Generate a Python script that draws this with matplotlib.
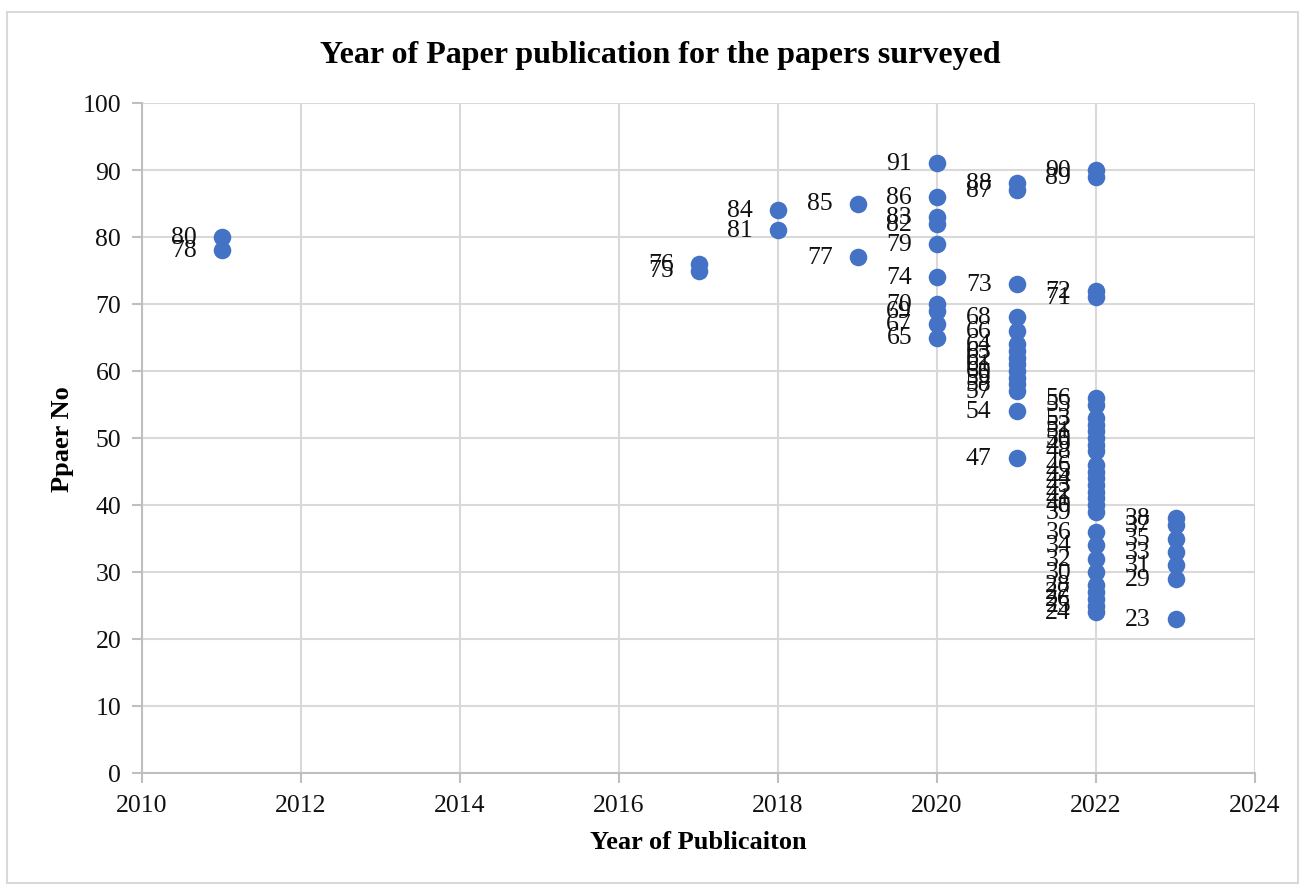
import matplotlib.pyplot as plt
from matplotlib.patches import Rectangle

# year of publication -> paper numbers
years = [2011, 2011,
         2017, 2017,
         2018, 2018,
         2019, 2019,
         2020, 2020, 2020, 2020, 2020, 2020, 2020, 2020, 2020, 2020,
         2021, 2021, 2021, 2021, 2021, 2021, 2021, 2021, 2021, 2021, 2021, 2021, 2021, 2021, 2021,
         2022, 2022, 2022, 2022, 2022, 2022, 2022, 2022, 2022,
         2022, 2022, 2022, 2022, 2022, 2022, 2022, 2022,
         2022, 2022, 2022, 2022, 2022, 2022, 2022, 2022,
         2022, 2022, 2022, 2022,
         2023, 2023, 2023, 2023, 2023, 2023, 2023]
paper_no = [78, 80,
            75, 76,
            81, 84,
            77, 85,
            65, 67, 69, 70, 74, 79, 82, 83, 86, 91,
            47, 54, 57, 58, 59, 60, 61, 62, 63, 64, 66, 68, 73, 87, 88,
            24, 25, 26, 27, 28, 30, 32, 34, 36,
            39, 40, 41, 42, 43, 44, 45, 46,
            48, 49, 50, 51, 52, 53, 55, 56,
            71, 72, 89, 90,
            23, 29, 31, 33, 35, 37, 38]

plt.rcParams['font.family'] = ['Liberation Serif', 'DejaVu Serif']

fig = plt.figure(figsize=(13.06, 8.87), dpi=100)
ax = fig.add_axes([142 / 1306, 1 - 774 / 887, (1255 - 142) / 1306, (774 - 104) / 887])

grid_c = '#d9d9d9'
ax.scatter(years, paper_no, s=160, color='#4472C4', zorder=3, linewidths=0)
for x, y in zip(years, paper_no):
    ax.annotate(str(y), (x, y), xytext=(-18, 0), textcoords='offset points',
                ha='right', va='center', fontsize=18.5, color='#111111', zorder=4)

ax.set_xlim(2010, 2024)
ax.set_ylim(0, 100)
ax.set_xticks(range(2010, 2025, 2))
ax.set_yticks(range(0, 101, 10))
ax.grid(True, color=grid_c, linewidth=1.5, zorder=0)
ax.set_axisbelow(True)
for side in ['top', 'right']:
    ax.spines[side].set_visible(False)
ax.spines['left'].set_color('#bfbfbf')
ax.spines['bottom'].set_color('#bfbfbf')
ax.spines['left'].set_linewidth(1.5)
ax.spines['bottom'].set_linewidth(1.5)
ax.tick_params(axis='both', labelsize=18.5, colors='#bfbfbf', labelcolor='#111111',
               length=7, width=1.5, direction='out')
ax.tick_params(axis='x', pad=8)
ax.tick_params(axis='y', pad=8)

# title is centred on the whole chart area, not the plot area
fig.text(660 / 1306, 1 - 63 / 887, 'Year of Paper publication for the papers surveyed',
         fontsize=23, fontweight='bold', ha='center', va='baseline')
ax.set_xlabel('Year of Publicaiton', fontsize=19, fontweight='bold', labelpad=10)
ax.set_ylabel('Ppaer No', fontsize=19, fontweight='bold', labelpad=6)

fig.patches.append(Rectangle((7 / 1306, 3 / 887), 1291 / 1306, 871 / 887,
                             transform=fig.transFigure, fill=False,
                             edgecolor='#d9d9d9', linewidth=1.5))

fig.savefig('out.png', dpi=100)
